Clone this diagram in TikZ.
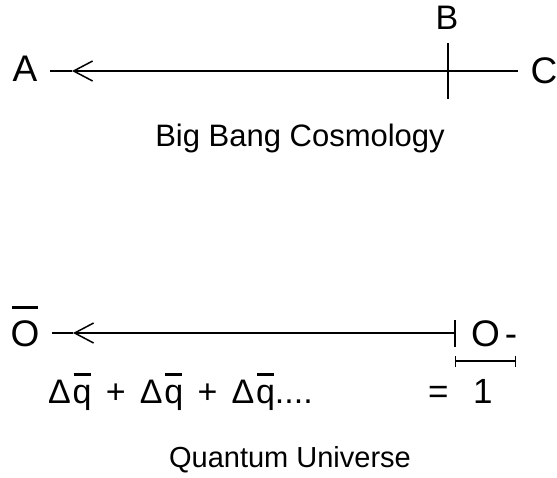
\documentclass[tikz,border=0pt]{standalone}
\usepackage{fontspec}
\setmainfont{Liberation Sans}
\usetikzlibrary{arrows.meta,positioning}
\tikzset{
  >=Stealth,
  lbl/.style={inner sep=0pt,outer xsep=13pt,font=\fontsize{37}{40}\selectfont},
  txt/.style={inner sep=0pt,anchor=base},
  ln/.style={line width=1.5pt},
  barb/.style={ln,-{Straight Barb[length=19pt,width=20pt]}},
  dim/.style={line width=1.3pt,{Bar[width=11pt]}-{Bar[width=11pt]}},
}
% bar drawn over a letter: width, height, letter
\newcommand{\ovl}[3]{\ooalign{#3\cr\hidewidth\raisebox{#2}{\rule{#1}{0.07em}}\hidewidth\cr}}
\newcommand{\dq}{Δ\kern0.05em\ovl{0.5em}{0.8em}{q}}

\begin{document}
\begin{tikzpicture}[x=1pt,y=-1pt]
\useasboundingbox (0,0) rectangle (557,477);
% big bang line
\node[lbl] (A) at (25,69) {A};
\node[lbl] (C) at (544,71) {C};
\node[lbl,font=\fontsize{34}{38}\selectfont] (B) at (447,18) {B};
\coordinate (tipA) at (72,71);
\coordinate (tickB) at (448,71);
\draw[barb] (tipA -| C.west) -- (tipA);
\draw[ln] (tipA) -- (tipA -| A.east);
\draw[ln] ([yshift=28pt]tickB) -- ([yshift=-28pt]tickB);
\node[txt,font=\fontsize{31}{34}\selectfont] (bbc) at (300,146) {Big Bang Cosmology};
% quantum line
\node[lbl,anchor=base] (Obar) at (25,346) {\ovl{0.68em}{1.0em}{O}};
\node[lbl,anchor=base west,outer xsep=0pt] (O) at (471,346) {O\kern0.14em-};
\coordinate (tipO) at (73,333);
\coordinate (tickO) at (455,333);
\draw[barb] (tickO) -- (tipO);
\draw[ln] (tipO) -- (tipO -| Obar.east);
\draw[ln] ([yshift=13pt]tickO) -- ([yshift=-14pt]tickO);
\coordinate (d0) at (455,361);
\coordinate (d1) at (516,361);
\draw[dim] (d0) -- (d1);
\node[txt,anchor=base west,font=\fontsize{34}{38}\selectfont] (sum) at (48,403)
  {\dq\hspace{0.42em}+\hspace{0.42em}\dq\hspace{0.42em}+\hspace{0.42em}\dq....};
\node[txt,anchor=base west,font=\fontsize{35}{38}\selectfont] (one) at (428,403) {=\hspace{0.7em}1};
\node[txt,font=\fontsize{29}{32}\selectfont] (qu) at (290,467) {Quantum Universe};
\end{tikzpicture}
\end{document}
